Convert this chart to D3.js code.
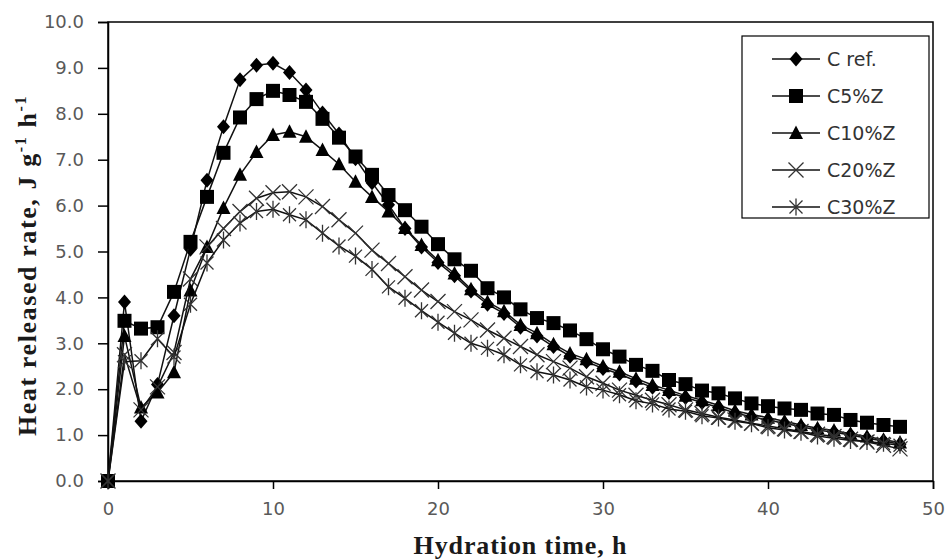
<!DOCTYPE html>
<html>
<head>
<meta charset="utf-8">
<script src="https://cdn.jsdelivr.net/npm/d3@7"></script>
<style>
  body { margin: 0; background: #fff; }
  .tick text { font-family: "DejaVu Sans", sans-serif; font-size: 18px; fill: #595959; }
</style>
</head>
<body>
<div class="canvas"></div>
<script>
// hydration time, h
const hours = [0, 1, 2, 3, 4, 5, 6, 7, 8, 9, 10, 11, 12, 13, 14, 15, 16, 17, 18, 19, 20,
  21, 22, 23, 24, 25, 26, 27, 28, 29, 30, 31, 32, 33, 34, 35, 36, 37, 38, 39, 40,
  41, 42, 43, 44, 45, 46, 47, 48];

const seriesNames = ['C ref.', 'C5%Z', 'C10%Z', 'C20%Z', 'C30%Z'];
const markerTypes = ['diamond', 'square', 'triangle', 'cross', 'star'];

const cRef = [0, 3.9, 1.3, 2.1, 3.6, 5.05, 6.55, 7.72, 8.74, 9.06, 9.1, 8.9, 8.52, 8.02, 7.56,
  7.02, 6.5, 6.02, 5.5, 5.1, 4.76, 4.47, 4.14, 3.85, 3.65, 3.35, 3.16, 2.93, 2.72, 2.6,
  2.45, 2.33, 2.18, 2.04, 1.93, 1.82, 1.71, 1.6, 1.48, 1.4, 1.33, 1.26, 1.18, 1.11, 1.06,
  1.0, 0.93, 0.87, 0.8];
const c5 = [0, 3.49, 3.32, 3.35, 4.12, 5.21, 6.19, 7.15, 7.92, 8.32, 8.5, 8.41, 8.26, 7.89, 7.48,
  7.07, 6.67, 6.23, 5.9, 5.54, 5.16, 4.83, 4.58, 4.2, 4.0, 3.74, 3.55, 3.44, 3.28, 3.09,
  2.87, 2.71, 2.53, 2.4, 2.2, 2.11, 1.97, 1.91, 1.8, 1.69, 1.63, 1.58, 1.55, 1.47, 1.44,
  1.33, 1.27, 1.22, 1.18];
const c10 = [0, 3.16, 1.6, 1.93, 2.37, 4.15, 5.1, 5.95, 6.67, 7.17, 7.54, 7.61, 7.5, 7.21, 6.9,
  6.52, 6.19, 5.87, 5.51, 5.14, 4.81, 4.52, 4.18, 3.9, 3.7, 3.4, 3.22, 2.98, 2.78, 2.65,
  2.5, 2.38, 2.23, 2.09, 1.98, 1.86, 1.76, 1.65, 1.53, 1.45, 1.38, 1.3, 1.22, 1.15, 1.1,
  1.03, 0.97, 0.9, 0.84];
const c20 = [0, 2.75, 1.55, 2.05, 2.8, 4.4, 5.1, 5.5, 5.87, 6.16, 6.28, 6.3, 6.19, 5.98, 5.69,
  5.4, 5.03, 4.74, 4.45, 4.16, 3.91, 3.69, 3.51, 3.29, 3.11, 2.93, 2.75, 2.6, 2.46, 2.27,
  2.13, 1.98, 1.87, 1.76, 1.66, 1.55, 1.47, 1.39, 1.33, 1.26, 1.2, 1.14, 1.08, 1.02, 0.97,
  0.91, 0.85, 0.78, 0.7];
const c30 = [0, 2.6, 2.62, 3.1, 2.7, 3.85, 4.75, 5.25, 5.62, 5.87, 5.92, 5.8, 5.69, 5.4, 5.12,
  4.9, 4.61, 4.23, 3.98, 3.71, 3.46, 3.22, 3.0, 2.89, 2.75, 2.53, 2.38, 2.31, 2.2, 2.05,
  1.98, 1.88, 1.75, 1.68, 1.57, 1.52, 1.42, 1.37, 1.3, 1.25, 1.16, 1.11, 1.06, 0.98, 0.93,
  0.88, 0.86, 0.82, 0.78];

const xTicks = [0, 10, 20, 30, 40, 50];
const yTicks = [0, 1, 2, 3, 4, 5, 6, 7, 8, 9, 10];

const allSeries = [cRef, c5, c10, c20, c30];

const svg = d3.select('.canvas')
  .append('svg')
  .attr('width', 949)
  .attr('height', 559);

const margin = { left: 108, right: 16, top: 22, bottom: 78 };
const width = 949 - margin.left - margin.right;
const height = 559 - margin.top - margin.bottom;

const graph = svg.append('g')
  .attr('transform', `translate(${margin.left}, ${margin.top})`);

const x = d3.scaleLinear().domain([0, 50]).range([0, width]);
const y = d3.scaleLinear().domain([0, 10]).range([height, 0]);

// frame
graph.append('rect')
  .attr('width', width)
  .attr('height', height)
  .attr('fill', 'none')
  .attr('stroke', '#000')
  .attr('stroke-width', 1.5);

const xAxis = graph.append('g')
  .attr('transform', `translate(0, ${height})`)
  .call(d3.axisBottom(x).tickValues(xTicks).tickSize(8).tickPadding(13).tickFormat(d3.format('d')));

const yAxis = graph.append('g')
  .call(d3.axisLeft(y).tickValues(yTicks).tickSize(10).tickPadding(14).tickFormat(d3.format('.1f')));

[xAxis, yAxis].forEach(a => {
  a.select('.domain').attr('stroke', '#000').attr('stroke-width', 1.5);
  a.selectAll('.tick line').attr('stroke', '#000').attr('stroke-width', 1.5);
});

function markerPath(type) {
  switch (type) {
    case 'diamond': return 'M0,-7.5L6.5,0L0,7.5L-6.5,0Z';
    case 'square': return 'M-7,-7h14v14h-14Z';
    case 'triangle': return 'M0,-7.5L7,6L-7,6Z';
    case 'cross': return 'M-7.5,-7.5L7.5,7.5M-7.5,7.5L7.5,-7.5';
    case 'star': return 'M-6.5,-6.5L6.5,6.5M-6.5,6.5L6.5,-6.5M0,-8.5L0,8.5';
  }
}

function drawMarker(sel, type) {
  const filled = type === 'diamond' || type === 'square' || type === 'triangle';
  sel.attr('d', markerPath(type))
    .attr('fill', filled ? '#000' : 'none')
    .attr('stroke', filled ? 'none' : '#333')
    .attr('stroke-width', 1.3);
}

const line = d3.line()
  .x((d, i) => x(hours[i]))
  .y(d => y(d));

allSeries.forEach((values, s) => {
  const g = graph.append('g').attr('class', 'series');
  g.append('path')
    .datum(values)
    .attr('fill', 'none')
    .attr('stroke', '#111')
    .attr('stroke-width', 1.5)
    .attr('d', line);
  g.selectAll('path.mark')
    .data(values)
    .enter()
    .append('path')
    .attr('class', 'mark')
    .attr('transform', (d, i) => `translate(${x(hours[i])}, ${y(d)})`)
    .call(drawMarker, markerTypes[s]);
});

// legend
const legend = svg.append('g').attr('transform', 'translate(742, 36)');
legend.append('rect')
  .attr('width', 187)
  .attr('height', 182)
  .attr('fill', '#fff')
  .attr('stroke', '#000')
  .attr('stroke-width', 1.2);

seriesNames.forEach((name, i) => {
  const row = legend.append('g').attr('transform', `translate(0, ${23 + i * 37})`);
  row.append('line')
    .attr('x1', 30).attr('x2', 78)
    .attr('stroke', '#111').attr('stroke-width', 1.5);
  row.append('path')
    .attr('transform', 'translate(54, 0)')
    .call(drawMarker, markerTypes[i]);
  row.append('text')
    .attr('x', 85)
    .attr('dy', '0.36em')
    .attr('font-family', '"DejaVu Sans", sans-serif')
    .attr('font-size', 19)
    .attr('fill', '#333')
    .text(name);
});

// axis titles
svg.append('text')
  .attr('x', margin.left + width / 2)
  .attr('y', 554)
  .attr('text-anchor', 'middle')
  .attr('font-family', '"Liberation Serif", serif')
  .attr('font-weight', 'bold')
  .attr('font-size', 26)
  .attr('letter-spacing', 0.9)
  .attr('fill', '#1a1a1a')
  .text('Hydration time, h');

const yTitle = svg.append('text')
  .attr('transform', `translate(36, ${margin.top + height / 2 + 14}) rotate(-90)`)
  .attr('text-anchor', 'middle')
  .attr('font-family', '"Liberation Serif", serif')
  .attr('font-weight', 'bold')
  .attr('font-size', 26)
  .attr('letter-spacing', 1.6)
  .attr('fill', '#1a1a1a');
yTitle.append('tspan').text('Heat released rate, J g');
yTitle.append('tspan').attr('font-size', 16).attr('dy', -10).text('-1');
yTitle.append('tspan').attr('dy', 10).text(' h');
yTitle.append('tspan').attr('font-size', 16).attr('dy', -10).text('-1');
</script>
</body>
</html>
